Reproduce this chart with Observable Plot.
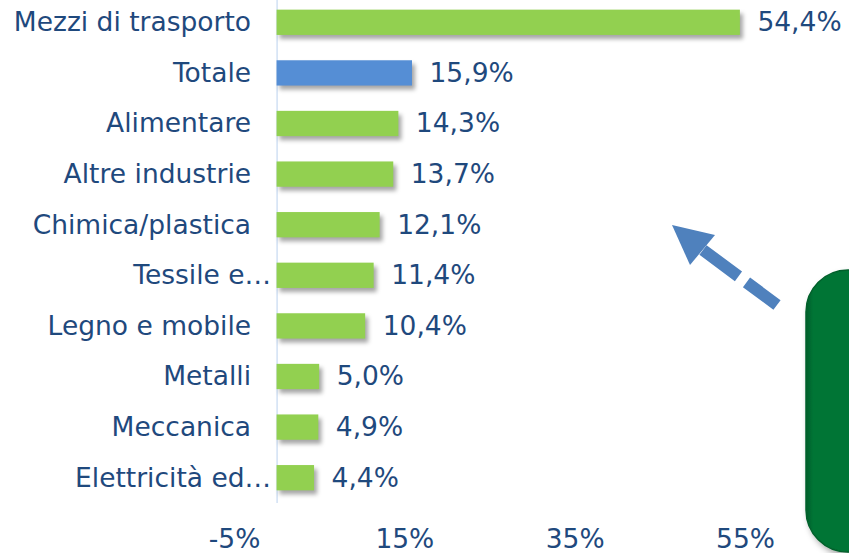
<!DOCTYPE html>
<html>
<head>
<meta charset="utf-8">
<script src="https://cdn.jsdelivr.net/npm/d3@7"></script>
<script src="https://cdn.jsdelivr.net/npm/@observablehq/plot@0.6"></script>
<style>
  html, body { margin: 0; padding: 0; background: #fff; }
  #wrap { position: relative; width: 849px; height: 553px; overflow: hidden; }
  #wrap > svg:first-child { position: absolute; left: 0; top: 0; }
  #deco { position: absolute; left: 0; top: 0; pointer-events: none; }
</style>
</head>
<body>
<div id="wrap"></div>
<script>
// ---- data ----
const categories = ["Mezzi di trasporto", "Totale", "Alimentare", "Altre industrie", "Chimica/plastica",
  "Tessile e…", "Legno e mobile", "Metalli", "Meccanica", "Elettricità ed…"];
const values = [54.4, 15.9, 14.3, 13.7, 12.1, 11.4, 10.4, 5.0, 4.9, 4.4];
const highlighted = "Totale";
const xTicks = [-5, 15, 35, 55];
const xDomain = [-5, 55];

// ---- style ----
const textColor = "#1F497D";
const green = "#92D050";
const blue = "#558ED5";
const font = "'DejaVu Sans', Verdana, sans-serif";
const fs = 26.5;

const data = categories.map((c, i) => ({cat: c, value: values[i]}));
const fmt = v => v.toFixed(1).replace(".", ",") + "%";
const truncated = d => d.cat.endsWith("…");

const chart = Plot.plot({
  width: 849,
  height: 553,
  marginLeft: 234,
  marginRight: 104,
  marginTop: 0,
  marginBottom: 50,
  style: {fontFamily: font, fontSize: fs + "px", color: textColor, background: "transparent", overflow: "visible"},
  x: {domain: xDomain, ticks: xTicks, tickFormat: d => d + "%", tickSize: 0, tickPadding: 26, label: null},
  y: {domain: categories, range: [-3, 503], paddingInner: 0.5, paddingOuter: 0.25, round: false, axis: null},
  color: {type: "identity"},
  marks: [
    Plot.ruleX([0], {stroke: "#C6D9F1", strokeWidth: 1.2}),
    Plot.barX(data, {x: "value", y: "cat", fill: d => d.cat === highlighted ? blue : green}),
    Plot.text(data, {x: "value", y: "cat", text: d => fmt(d.value), textAnchor: "start", dx: 17, fill: textColor, fontSize: fs}),
    Plot.text(data.filter(d => !truncated(d)), {x: 0, y: "cat", text: "cat", textAnchor: "end", dx: -26, fill: textColor, fontSize: fs}),
    Plot.text(data.filter(truncated), {x: 0, y: "cat", text: "cat", textAnchor: "end", dx: -6, fill: textColor, fontSize: fs})
  ]
});
document.getElementById("wrap").appendChild(chart);

const svg = d3.select(chart);
svg.selectAll("g[aria-label='bar'] rect").style("filter", "drop-shadow(3px 4px 2px rgba(0,0,0,0.35))");
svg.selectAll("[aria-label='x-axis'] text, [aria-label='x-axis tick label'] text").attr("fill", textColor).style("font-size", fs + "px");

// ---- decorations (non-data): dashed arrow and green box ----
const deco = d3.select("#wrap").append("svg").attr("id", "deco").attr("width", 849).attr("height", 553);
const defs = deco.append("defs");
const sh = defs.append("filter").attr("id", "sh").attr("x", "-20%").attr("y", "-20%").attr("width", "150%").attr("height", "150%");
sh.append("feDropShadow").attr("dx", 3).attr("dy", 4).attr("stdDeviation", 3).attr("flood-color", "#000").attr("flood-opacity", 0.35);
const lg = defs.append("linearGradient").attr("id", "gbox").attr("x1", 0).attr("x2", 1).attr("y1", 0).attr("y2", 0);
lg.append("stop").attr("offset", "0").attr("stop-color", "#005E2A");
lg.append("stop").attr("offset", "0.08").attr("stop-color", "#007435");
lg.append("stop").attr("offset", "1").attr("stop-color", "#007435");
deco.append("rect").attr("x", 806).attr("y", 270).attr("width", 90).attr("height", 282).attr("rx", 42)
  .attr("fill", "url(#gbox)").attr("stroke", "#00602B").attr("stroke-width", 1.5).attr("filter", "url(#sh)");
const arrowColor = "#4F81BD";
deco.append("line").attr("x1", 777).attr("y1", 305).attr("x2", 703).attr("y2", 250)
  .attr("stroke", arrowColor).attr("stroke-width", 12).attr("stroke-dasharray", "38 10 80");
deco.append("path").attr("d", "M672,225 L690,265 L715,235 Z").attr("fill", arrowColor);
</script>
</body>
</html>
